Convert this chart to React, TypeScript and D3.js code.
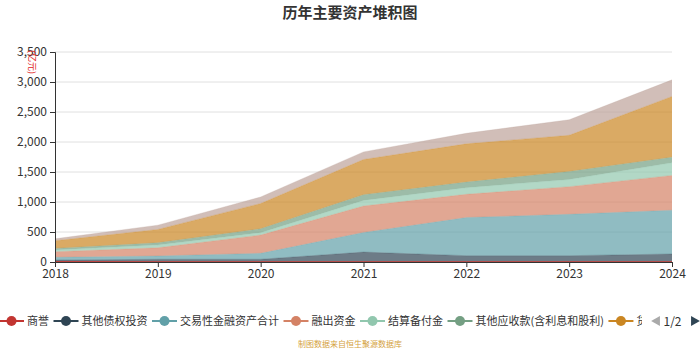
import React, { useEffect, useRef } from 'react';
import * as d3 from 'd3';

const years = [2018, 2019, 2020, 2021, 2022, 2023, 2024];
const seriesNames = ['商誉', '其他债权投资', '交易性金融资产合计', '融出资金', '结算备付金', '其他应收款(含利息和股利)', '货币资金', '买入返售金融资产'];
const colors = ['#c23531', '#2f4554', '#61a0a8', '#d48265', '#91c7ae', '#749f83', '#ca8622', '#bda29a'];

const goodwill = [8, 5, 5, 5, 5, 5, 5];
const otherDebt = [25, 40, 40, 160, 100, 100, 128];
const tradingAssets = [45, 55, 100, 327, 636, 690, 730];
const marginLoans = [93, 137, 304, 441, 387, 460, 580];
const settlementFunds = [28, 45, 38, 94, 111, 121, 211];
const otherReceivables = [28, 39, 67, 95, 93, 133, 93];
const cashFunds = [127, 221, 421, 586, 637, 602, 1012];
const reverseRepo = [33, 72, 109, 127, 176, 260, 277];

const yTicks = [0, 500, 1000, 1500, 2000, 2500, 3000, 3500];

const W = 700;
const H = 350;
const font = '"Noto Sans CJK SC", "Noto Sans", sans-serif';

const App = () => {
    const ref = useRef<SVGSVGElement>(null);

    useEffect(() => {
        const svg = d3.select(ref.current);
        svg.selectAll('*').remove();

        const margin = { left: 55, right: 28, top: 52, bottom: 88 };
        const values = [goodwill, otherDebt, tradingAssets, marginLoans, settlementFunds, otherReceivables, cashFunds, reverseRepo];
        const rows = years.map((y, i) => {
            const row: any = { year: y };
            seriesNames.forEach((n, k) => { row[n] = values[k][i]; });
            return row;
        });

        const x = d3.scaleLinear().domain([2018, 2024]).range([margin.left, W - margin.right]);
        const y = d3.scaleLinear().domain([0, 3500]).range([H - margin.bottom, margin.top]);

        // 网格线
        svg.append('g')
            .selectAll('line')
            .data(yTicks.slice(1))
            .enter()
            .append('line')
            .attr('x1', margin.left)
            .attr('x2', W - margin.right)
            .attr('y1', d => y(d))
            .attr('y2', d => y(d))
            .attr('stroke', '#e0e0e0');

        // 堆积面积
        const stack = d3.stack<any>().keys(seriesNames);
        const layers = stack(rows);
        const area = d3.area<any>()
            .x(d => x(d.data.year))
            .y0(d => y(d[0]))
            .y1(d => y(d[1]));
        const line = d3.line<any>()
            .x(d => x(d.data.year))
            .y(d => y(d[1]));

        svg.append('g')
            .selectAll('path')
            .data(layers)
            .enter()
            .append('path')
            .attr('d', area)
            .attr('fill', (d, i) => colors[i])
            .attr('fill-opacity', 0.7);

        svg.append('g')
            .selectAll('path')
            .data(layers)
            .enter()
            .append('path')
            .attr('d', line)
            .attr('fill', 'none')
            .attr('stroke', (d, i) => colors[i])
            .attr('stroke-opacity', (d, i) => (i === 0 ? 0.9 : 0.25))
            .attr('stroke-width', 1);

        // 坐标轴
        const yAxis = d3.axisLeft(y).tickValues(yTicks).tickSize(5).tickPadding(3).tickFormat(d3.format(','));
        const gy = svg.append('g')
            .attr('transform', `translate(${margin.left},0)`)
            .call(yAxis);
        gy.select('.domain').attr('stroke', '#333');
        gy.selectAll('.tick line').attr('stroke', '#333');
        gy.selectAll('text').attr('fill', '#333').attr('font-size', 12).attr('font-family', font);

        const xAxis = d3.axisBottom(x).tickValues(years).tickSize(5).tickPadding(2).tickFormat(d3.format('d'));
        const gx = svg.append('g')
            .attr('transform', `translate(0,${H - margin.bottom})`)
            .call(xAxis);
        gx.select('.domain').attr('stroke', '#333');
        gx.selectAll('.tick line').attr('stroke', '#333');
        gx.selectAll('text').attr('fill', '#333').attr('font-size', 12).attr('font-family', font);

        // 单位
        svg.append('text')
            .attr('transform', `translate(29,${margin.top + 10}) rotate(90)`)
            .attr('text-anchor', 'middle')
            .attr('font-size', 9)
            .attr('font-family', font)
            .attr('fill', '#e02020')
            .text('(亿元)');

        // 标题
        svg.append('text')
            .attr('x', W / 2)
            .attr('y', 18)
            .attr('text-anchor', 'middle')
            .attr('font-size', 15)
            .attr('font-weight', 'bold')
            .attr('font-family', font)
            .attr('fill', '#333')
            .text('历年主要资产堆积图');

        // 图例
        svg.append('clipPath').attr('id', 'legendClip')
            .append('rect').attr('x', 0).attr('y', 300).attr('width', 642).attr('height', 40);
        const legend = svg.append('g').attr('clip-path', 'url(#legendClip)');
        let lx = -1;
        const ly = 321;
        seriesNames.slice(0, 7).forEach((name, i) => {
            const g = legend.append('g');
            g.append('line')
                .attr('x1', lx).attr('x2', lx + 25)
                .attr('y1', ly).attr('y2', ly)
                .attr('stroke', colors[i]).attr('stroke-width', 2);
            g.append('circle')
                .attr('cx', lx + 12.5).attr('cy', ly).attr('r', 5)
                .attr('fill', colors[i]);
            const t = g.append('text')
                .attr('x', lx + 28)
                .attr('y', ly + 4)
                .attr('font-size', 11)
                .attr('font-family', font)
                .attr('fill', '#333')
                .text(name);
            const w = (t.node() as SVGTextElement).getComputedTextLength();
            lx = lx + 28 + w + 4.5;
        });

        // 翻页
        svg.append('path')
            .attr('d', d3.symbol().type(d3.symbolTriangle).size(45)())
            .attr('transform', `translate(657,${ly}) rotate(-90)`)
            .attr('fill', '#aaa');
        svg.append('text')
            .attr('x', 672.5)
            .attr('y', ly + 4.5)
            .attr('text-anchor', 'middle')
            .attr('font-size', 12)
            .attr('font-family', font)
            .attr('fill', '#333')
            .text('1/2');
        svg.append('path')
            .attr('d', d3.symbol().type(d3.symbolTriangle).size(45)())
            .attr('transform', `translate(694,${ly}) rotate(90)`)
            .attr('fill', '#2f4554');

        // 来源
        svg.append('text')
            .attr('x', W / 2)
            .attr('y', 347)
            .attr('text-anchor', 'middle')
            .attr('font-size', 8)
            .attr('font-family', font)
            .attr('fill', '#d4a240')
            .text('制图数据来自恒生聚源数据库');
    }, []);

    return (
        <svg ref={ref} width={W} height={H}
            style={{ position: 'absolute', left: 0, top: 0, background: '#fff' }} />
    );
};

export default App;
